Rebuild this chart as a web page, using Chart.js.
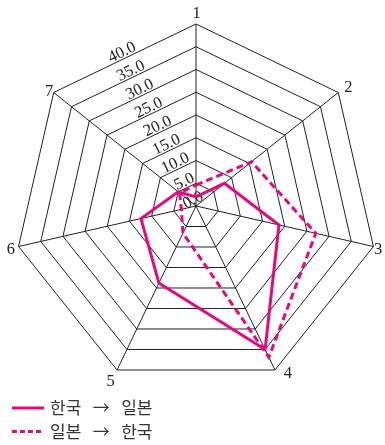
<!DOCTYPE html>
<html>
<head>
<meta charset="utf-8">
<script src="https://cdn.jsdelivr.net/npm/chart.js@4.4.1/dist/chart.umd.min.js"></script>
<style>
  html, body { margin: 0; padding: 0; background: #fff; }
  canvas { display: block; }
</style>
</head>
<body>
<canvas id="radar" width="385" height="445"></canvas>
<script>
// Axis names and values for each direction of trade
const axisLabels = ['1', '2', '3', '4', '5', '6', '7'];
const koreaToJapan = [2.0, 8.0, 18.7, 35.0, 18.8, 12.4, 5.0];
const japanToKorea = [4.6, 15.6, 27.0, 36.9, 6.6, 3.3, 4.6];
const tickValues = [0, 5, 10, 15, 20, 25, 30, 35, 40];
const seriesNames = ['한국   →   일본', '일본   →   한국'];

const MAGENTA = '#e5087f';
const INK = '#222';
const SERIF = '"Liberation Serif", "DejaVu Serif", serif';
const HANGUL = '"Noto Sans CJK KR", "Noto Sans", sans-serif';

// Nudges of each axis name away from its outer vertex (x, y in px)
const axisNameNudge = [[0.5, -11.5], [10.2, -6.5], [4.6, 2.5], [13, 2.5], [-6.5, 11], [-7.6, 2.5], [-4.7, -2.5]];

// Tick values laid along the gap between the last and first axis,
// parallel to the ring edges (drawn under the series lines)
const radarTicks = {
  id: 'radarTicks',
  beforeDatasetsDraw(chart) {
    const r = chart.scales.r;
    const ctx = chart.ctx;
    const n = axisLabels.length;
    const mid = n - 0.5;
    ctx.save();
    ctx.fillStyle = INK;
    ctx.font = '16.5px ' + SERIF;
    ctx.textAlign = 'center';
    ctx.textBaseline = 'alphabetic';
    tickValues.forEach(v => {
      const d = r.getDistanceFromCenterForValue(v) * Math.cos(Math.PI / n) + 7.5;
      const p = r.getPointPosition(mid, d);
      ctx.save();
      ctx.translate(p.x, p.y);
      ctx.rotate(p.angle + Math.PI / 2);
      ctx.fillText(v.toFixed(1), 0, 5.5);
      ctx.restore();
    });
    ctx.restore();
  }
};

// Axis names 1..7 next to the outer vertices
const radarNames = {
  id: 'radarNames',
  afterDraw(chart) {
    const r = chart.scales.r;
    const ctx = chart.ctx;
    ctx.save();
    ctx.fillStyle = INK;
    ctx.font = '16.5px ' + SERIF;
    ctx.textAlign = 'center';
    ctx.textBaseline = 'alphabetic';
    axisLabels.forEach((name, i) => {
      const p = r.getPointPositionForValue(i, r.max);
      ctx.fillText(name, p.x + axisNameNudge[i][0], p.y + axisNameNudge[i][1] + 5.5);
    });
    ctx.restore();
  }
};

// Two-row key below the plot
const radarKey = {
  id: 'radarKey',
  afterDraw(chart) {
    const ctx = chart.ctx;
    const rows = [408, 431.5];
    ctx.save();
    chart.data.datasets.forEach((ds, i) => {
      const y = rows[i];
      ctx.strokeStyle = ds.borderColor;
      ctx.lineWidth = ds.borderWidth;
      ctx.setLineDash(ds.borderDash ? [5, 3] : []);
      ctx.beginPath();
      ctx.moveTo(12, y);
      ctx.lineTo(44, y);
      ctx.stroke();
      ctx.setLineDash([]);
      ctx.fillStyle = '#333';
      ctx.font = '17px ' + HANGUL;
      ctx.textAlign = 'left';
      ctx.textBaseline = 'middle';
      ctx.fillText(ds.label, 50, y);
    });
    ctx.restore();
  }
};

new Chart(document.getElementById('radar'), {
  type: 'radar',
  data: {
    labels: axisLabels,
    datasets: [
      {
        label: seriesNames[0],
        data: koreaToJapan,
        borderColor: MAGENTA,
        borderWidth: 3,
        fill: false,
        pointRadius: 0,
        tension: 0
      },
      {
        label: seriesNames[1],
        data: japanToKorea,
        borderColor: MAGENTA,
        borderWidth: 3,
        borderDash: [7, 4],
        fill: false,
        pointRadius: 0,
        tension: 0
      }
    ]
  },
  options: {
    responsive: false,
    animation: false,
    devicePixelRatio: 1,
    layout: { padding: { left: 14, top: 24, right: 7, bottom: 57 } },
    plugins: { legend: { display: false }, tooltip: { enabled: false } },
    scales: {
      r: {
        min: 0,
        max: 40,
        ticks: { stepSize: 5, display: false },
        pointLabels: { display: false },
        grid: { color: INK, lineWidth: 1 },
        angleLines: { color: INK, lineWidth: 1 }
      }
    }
  },
  plugins: [radarTicks, radarNames, radarKey]
});
</script>
</body>
</html>
